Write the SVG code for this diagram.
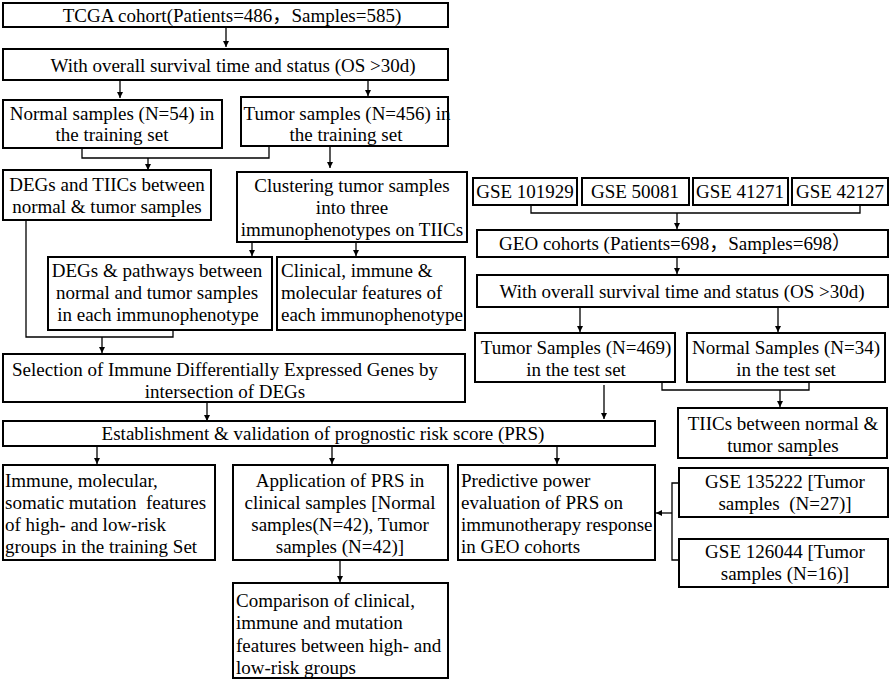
<svg xmlns="http://www.w3.org/2000/svg" width="892" height="681" viewBox="0 0 892 681">
<defs>
<style>
.b{fill:#fff;stroke:#000;stroke-width:2}
.t{font-family:'Liberation Serif','Times New Roman',serif;font-size:19px;fill:#000}
.k{font-family:'Noto Sans CJK SC',sans-serif}
.c{text-anchor:middle}
.l{fill:none;stroke:#000;stroke-width:1.3}
</style>
<marker id="a" markerUnits="userSpaceOnUse" markerWidth="7" markerHeight="7" refX="6" refY="3" orient="auto"><path d="M0,0 L6,3 L0,6 z" fill="#000"/></marker>
</defs>
<rect width="892" height="681" fill="#fff"/>
<g id="connectors">
<path class="l" d="M226,27 V47" marker-end="url(#a)"/>
<path class="l" d="M120,80 V98" marker-end="url(#a)"/>
<path class="l" d="M368,80 V96" marker-end="url(#a)"/>
<path class="l" d="M82,148 V158 H269 V146"/>
<path class="l" d="M148,158 V170" marker-end="url(#a)"/>
<path class="l" d="M330,146 V168" marker-end="url(#a)"/>
<path class="l" d="M252,242 V256" marker-end="url(#a)"/>
<path class="l" d="M356,242 V256" marker-end="url(#a)"/>
<path class="l" d="M26,220 V337 H173 V330"/>
<path class="l" d="M102,337 V353" marker-end="url(#a)"/>
<path class="l" d="M207,402 V421" marker-end="url(#a)"/>
<path class="l" d="M97,446 V464" marker-end="url(#a)"/>
<path class="l" d="M332,446 V464" marker-end="url(#a)"/>
<path class="l" d="M557,446 V464" marker-end="url(#a)"/>
<path class="l" d="M340,560 V582" marker-end="url(#a)"/>
<path class="l" d="M531,205 V213 H860 V205"/>
<path class="l" d="M677,213 V229" marker-end="url(#a)"/>
<path class="l" d="M677,257 V274" marker-end="url(#a)"/>
<path class="l" d="M580,307 V332" marker-end="url(#a)"/>
<path class="l" d="M778,307 V332" marker-end="url(#a)"/>
<path class="l" d="M662,382 V390 H809 V382"/>
<path class="l" d="M780,390 V407" marker-end="url(#a)"/>
<path class="l" d="M604,385 V419" marker-end="url(#a)"/>
<path class="l" d="M679,483 H672 V560 H679"/>
<path class="l" d="M672,513 H656" marker-end="url(#a)"/>
</g>
<g id="tcga"><rect class="b" x="3" y="3" width="445" height="24"/><text class="t c" x="232" y="22">TCGA cohort(Patients=486<tspan class="k">，</tspan>Samples=585)</text></g>
<g id="tcga-os"><rect class="b" x="3" y="49" width="445" height="31"/><text class="t c" x="233" y="72">With overall survival time and status (OS &gt;30d)</text></g>
<g id="normal-train"><rect class="b" x="3" y="100" width="219" height="48"/><text class="t c" x="112" y="120">Normal samples (N=54) in</text><text class="t c" x="112" y="141">the training set</text></g>
<g id="tumor-train"><rect class="b" x="241" y="97" width="207" height="49"/><text class="t c" x="347" y="120">Tumor samples (N=456) in</text><text class="t c" x="346" y="141">the training set</text></g>
<g id="degs-tiics"><rect class="b" x="3" y="170" width="208" height="50"/><text class="t c" x="107" y="191">DEGs and TIICs between</text><text class="t c" x="107" y="213">normal &amp; tumor samples</text></g>
<g id="clustering"><rect class="b" x="237" y="172" width="230" height="70"/><text class="t c" x="352" y="192">Clustering tumor samples</text><text class="t c" x="352" y="214">into three</text><text class="t c" x="352" y="236">immunophenotypes on TIICs</text></g>
<g id="degs-pathways"><rect class="b" x="48" y="257" width="224" height="73"/><text class="t c" x="157" y="277">DEGs &amp; pathways between</text><text class="t c" x="157" y="299">normal and tumor samples</text><text class="t c" x="158" y="321">in each immunophenotype</text></g>
<g id="clinical-features"><rect class="b" x="277" y="257" width="188" height="73"/><text class="t" x="281" y="277">Clinical, immune &amp;</text><text class="t" x="281" y="299">molecular features of</text><text class="t" x="281" y="321">each immunophenotype</text></g>
<g id="selection"><rect class="b" x="3" y="354" width="462" height="48"/><text class="t c" x="225" y="376">Selection of Immune Differentially Expressed Genes by</text><text class="t c" x="225" y="398">intersection of DEGs</text></g>
<g id="prs"><rect class="b" x="3" y="421" width="652" height="25"/><text class="t c" x="323" y="440">Establishment &amp; validation of prognostic risk score (PRS)</text></g>
<g id="immune-molecular"><rect class="b" x="3" y="465" width="212" height="95"/><text class="t" x="5" y="487" xml:space="preserve">Immune, molecular,</text><text class="t" x="5" y="509" xml:space="preserve">somatic mutation  features</text><text class="t" x="5" y="531">of high- and low-risk</text><text class="t" x="5" y="553">groups in the training Set</text></g>
<g id="application"><rect class="b" x="233" y="465" width="215" height="95"/><text class="t c" x="340" y="487">Application of PRS in</text><text class="t c" x="340" y="509">clinical samples [Normal</text><text class="t c" x="340" y="531">samples(N=42), Tumor</text><text class="t c" x="340" y="553">samples (N=42)]</text></g>
<g id="comparison"><rect class="b" x="233" y="583" width="215" height="95"/><text class="t" x="236" y="607">Comparison of clinical,</text><text class="t" x="236" y="629">immune and mutation</text><text class="t" x="236" y="652">features between high- and</text><text class="t" x="236" y="674">low-risk groups</text></g>
<g id="predictive"><rect class="b" x="458" y="465" width="197" height="95"/><text class="t" x="461" y="487">Predictive power</text><text class="t" x="461" y="509">evaluation of PRS on</text><text class="t" x="461" y="531">immunotherapy response</text><text class="t" x="461" y="553">in GEO cohorts</text></g>
<g id="gse101929"><rect class="b" x="473" y="178" width="104" height="27"/><text class="t c" x="525" y="198">GSE 101929</text></g>
<g id="gse50081"><rect class="b" x="582" y="178" width="107" height="27"/><text class="t c" x="635" y="198">GSE 50081</text></g>
<g id="gse41271"><rect class="b" x="693" y="178" width="95" height="27"/><text class="t c" x="740" y="198">GSE 41271</text></g>
<g id="gse42127"><rect class="b" x="792" y="178" width="96" height="27"/><text class="t c" x="840" y="198">GSE 42127</text></g>
<g id="geo"><rect class="b" x="477" y="230" width="411" height="27"/><text class="t c" x="675" y="250">GEO cohorts (Patients=698<tspan class="k">，</tspan>Samples=698<tspan class="k">）</tspan></text></g>
<g id="geo-os"><rect class="b" x="477" y="275" width="411" height="32"/><text class="t c" x="682" y="298">With overall survival time and status (OS &gt;30d)</text></g>
<g id="tumor-test"><rect class="b" x="475" y="333" width="200" height="49"/><text class="t c" x="576" y="354">Tumor Samples (N=469)</text><text class="t c" x="576" y="376">in the test set</text></g>
<g id="normal-test"><rect class="b" x="687" y="333" width="198" height="49"/><text class="t c" x="786" y="354">Normal Samples (N=34)</text><text class="t c" x="786" y="376">in the test set</text></g>
<g id="tiics-test"><rect class="b" x="678" y="408" width="209" height="50"/><text class="t c" x="783" y="430">TIICs between normal &amp;</text><text class="t c" x="783" y="452">tumor samples</text></g>
<g id="gse135222"><rect class="b" x="679" y="468" width="209" height="49"/><text class="t c" x="785" y="488">GSE 135222 [Tumor</text><text class="t c" x="785" y="510" xml:space="preserve">samples  (N=27)]</text></g>
<g id="gse126044"><rect class="b" x="679" y="539" width="209" height="48"/><text class="t c" x="785" y="558">GSE 126044 [Tumor</text><text class="t c" x="785" y="580">samples (N=16)]</text></g>
</svg>
